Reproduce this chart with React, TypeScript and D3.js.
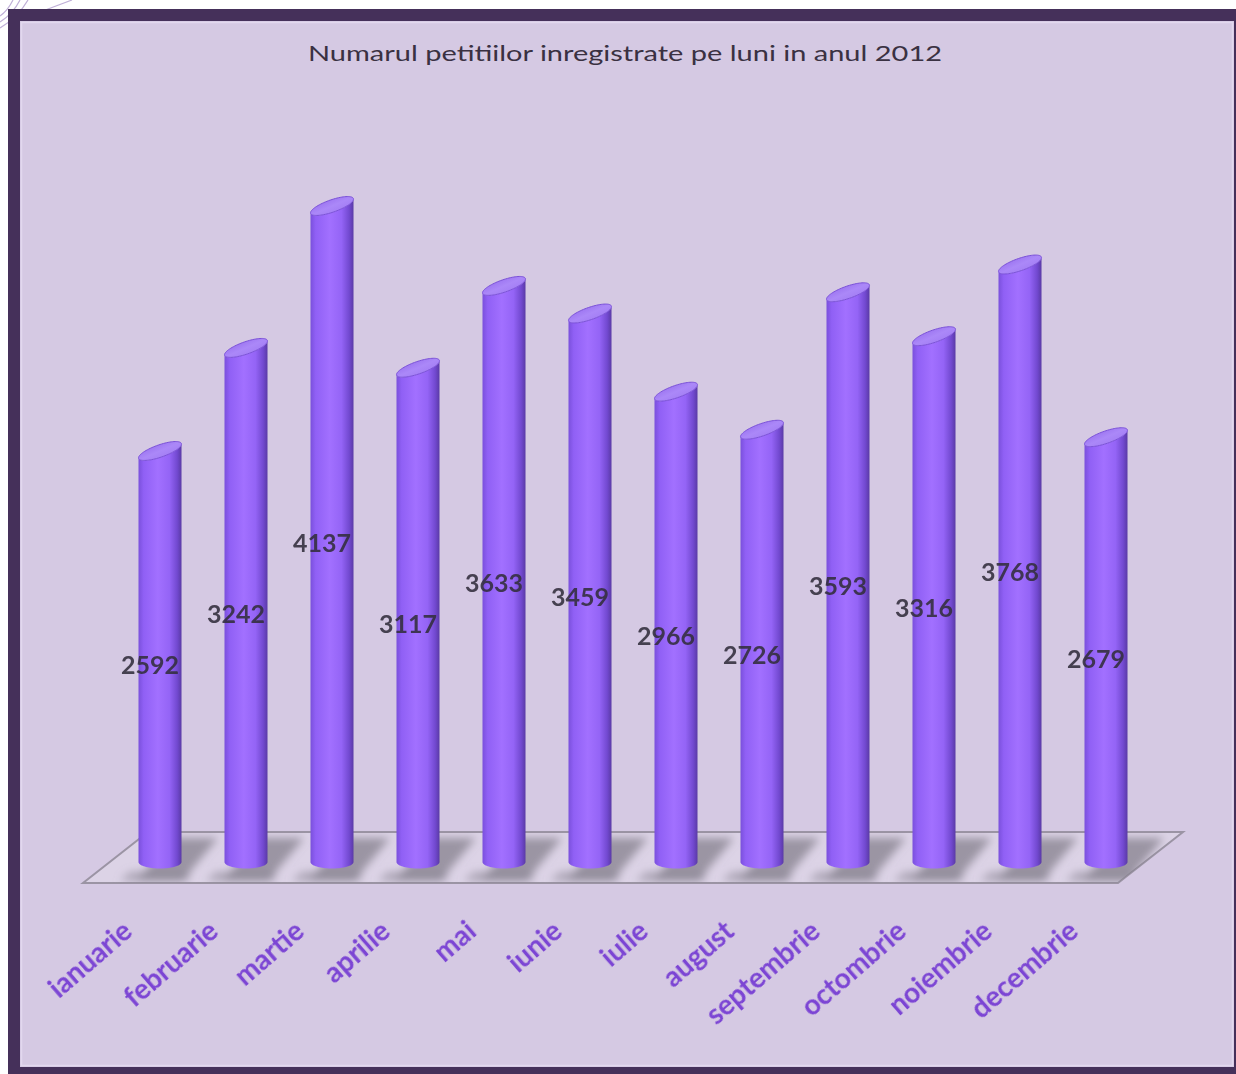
import React from "react";
import * as d3 from "d3";

const title = "Numarul petitiilor inregistrate pe luni in anul 2012";
const months = ["ianuarie", "februarie", "martie", "aprilie", "mai", "iunie", "iulie", "august", "septembrie", "octombrie", "noiembrie", "decembrie"];
const values = [2592, 3242, 4137, 3117, 3633, 3459, 2966, 2726, 3593, 3316, 3768, 2679];

const W = 1236;
const H = 1074;
const BASE_Y = 862;
const R = 21.5;
const SLOPE = 0.32;
const RY = 6.5;

export default function App() {
  const x = d3.scalePoint<string>().domain(months).range([160, 1106]);
  const y = d3.scaleLinear().domain([0, 4137]).range([BASE_Y, 206]);

  const line = d3.line<[number, number]>().curve(d3.curveLinearClosed);

  const floorPts: [number, number][] = [[83, 883], [1118, 883], [1183, 832], [148, 832]];

  const capPoint = (cx: number, cy: number, t: number): [number, number] => [
    cx + R * Math.cos(t),
    cy - R * Math.cos(t) * SLOPE + RY * Math.sin(t),
  ];

  const bars = months.map((m, i) => {
    const cx = x(m) as number;
    const cy = y(values[i]);
    const pts: [number, number][] = [];
    pts.push([cx - R, cy + R * SLOPE]);
    pts.push([cx - R, BASE_Y]);
    for (let k = 0; k <= 40; k++) {
      const t = Math.PI - (Math.PI * k) / 40;
      pts.push([cx + R * Math.cos(t), BASE_Y + RY * Math.sin(t)]);
    }
    pts.push([cx + R, cy - R * SLOPE]);
    for (let k = 0; k <= 40; k++) {
      const t = (Math.PI * k) / 40;
      pts.push(capPoint(cx, cy, t));
    }
    const cap: [number, number][] = [];
    for (let k = 0; k < 80; k++) {
      cap.push(capPoint(cx, cy, (2 * Math.PI * k) / 80));
    }
    const shadow: [number, number][] = [
      [cx + 14, 838],
      [cx + 58, 838],
      [cx + 22, 881],
      [cx - 24, 881],
    ];
    const under: [number, number][] = [
      [cx - 30, 872],
      [cx + 30, 872],
      [cx + 28, 881],
      [cx - 40, 881],
    ];
    return { m, v: values[i], cx, cy, body: line(pts), cap: line(cap), shadow: line(shadow), under: line(under) };
  });

  return (
    <svg
      width={W}
      height={H}
      viewBox={`0 0 ${W} ${H}`}
      style={{ position: "absolute", left: 0, top: 0, background: "#ffffff" }}
    >
      <defs>
        <linearGradient id="body" x1="0" x2="1" y1="0" y2="0">
          <stop offset="0" stopColor="#7a50dc" />
          <stop offset="0.12" stopColor="#9060f5" />
          <stop offset="0.45" stopColor="#a270ff" />
          <stop offset="0.72" stopColor="#9464f6" />
          <stop offset="0.9" stopColor="#7249d0" />
          <stop offset="1" stopColor="#5a3aa6" />
        </linearGradient>
        <linearGradient id="cap" x1="0" x2="1" y1="0" y2="1">
          <stop offset="0" stopColor="#8a5ee8" />
          <stop offset="0.5" stopColor="#ab88f8" />
          <stop offset="1" stopColor="#9a72f0" />
        </linearGradient>
        <filter id="blur" x="-50%" y="-50%" width="200%" height="200%">
          <feGaussianBlur stdDeviation="4" />
        </filter>
        <filter id="soft" x="-10%" y="-10%" width="120%" height="120%">
          <feGaussianBlur stdDeviation="0.6" />
        </filter>
        <clipPath id="floorClip">
          <path d={line(floorPts) as string} />
        </clipPath>
      </defs>

      {/* corner decoration */}
      <g fill="none" stroke="#b9a7d3" strokeWidth={1.2} opacity={0.9}>
        <path d="M0,28 C10,22 20,14 28,0" />
        <path d="M0,22 C8,17 15,10 20,0" />
        <path d="M0,16 C6,12 10,6 13,0" />
        <path d="M40,12 L72,0" />
      </g>

      {/* frame */}
      <rect x={14} y={15} width={1226} height={1058} fill="#d5c9e3" stroke="#45305a" strokeWidth={12} />
      <rect x={21.5} y={22.5} width={1211} height={1043} fill="none" stroke="#e2d8ee" strokeWidth={1.5} />

      {/* title */}
      <text
        x={625}
        y={61}
        textAnchor="middle"
        fontFamily="Lato, 'Open Sans', sans-serif"
        fontSize={22}
        fill="#3a3142"
        textLength={634}
        lengthAdjust="spacingAndGlyphs"
      >
        {title}
      </text>

      {/* floor */}
      <path d={line(floorPts) as string} fill="#dcd3e6" stroke="#9b94a4" strokeWidth={2} />
      <g clipPath="url(#floorClip)" filter="url(#blur)">
        {bars.map((b) => (
          <g key={"s" + b.m}>
            <path d={b.shadow as string} fill="#7f7a86" opacity={0.7} />
            <path d={b.under as string} fill="#8c8794" opacity={0.6} />
          </g>
        ))}
      </g>

      {/* bars */}
      {bars.map((b) => (
        <g key={b.m}>
          <path d={b.body as string} fill="url(#body)" />
          <path d={b.cap as string} fill="url(#cap)" stroke="#7b52d8" strokeWidth={1} />
        </g>
      ))}

      {/* value labels */}
      {bars.map((b) => (
        <text
          key={"v" + b.m}
          x={b.cx - 10}
          y={y(b.v / 2) + 8}
          textAnchor="middle"
          dominantBaseline="central"
          fontFamily="Lato, 'Open Sans', sans-serif"
          fontWeight={700}
          fontSize={25}
          fill="#332e3c"
          fillOpacity={0.88}
          filter="url(#soft)"
        >
          {b.v}
        </text>
      ))}

      {/* category labels */}
      {bars.map((b) => (
        <text
          key={"c" + b.m}
          transform={`translate(${b.cx - 26},${934}) rotate(-41)`}
          textAnchor="end"
          fontFamily="Lato, 'Open Sans', sans-serif"
          fontWeight={700}
          fontSize={28}
          fill="#7b44d4"
          filter="url(#soft)"
        >
          {b.m}
        </text>
      ))}
    </svg>
  );
}
